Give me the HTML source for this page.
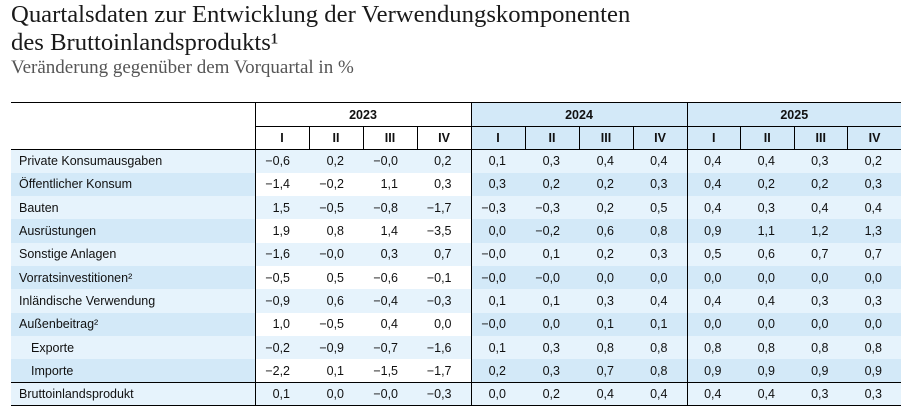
<!DOCTYPE html>
<html><head><meta charset="utf-8"><style>
body{margin:0;width:917px;height:416px;background:#fff;position:relative;overflow:hidden;font-family:"Liberation Sans Narrow","Liberation Sans",sans-serif;color:#111}
.t1{position:absolute;left:11px;top:1px;font-family:"Liberation Serif",serif;font-size:24.7px;line-height:28px;color:#1a1a1a}
.t2{position:absolute;left:11px;top:57px;font-family:"Liberation Serif",serif;font-size:19px;color:#555}
table{position:absolute;left:11px;top:102px;border-collapse:collapse;table-layout:fixed;font-size:12.5px}
td{padding:0;white-space:nowrap}
.h td{text-align:center;font-weight:bold}
.n{text-align:right;padding-right:19px}
.l{padding-left:8px}
.in{padding-left:20px}
.o td{background:#e6f3fc}
.e td{background:#d3e9f8}
.e td.w{background:#fff}
</style></head><body>
<div class="t1">Quartalsdaten zur Entwicklung der Verwendungskomponenten<br>des Bruttoinlandsprodukts¹</div>
<div class="t2">Veränderung gegenüber dem Vorquartal in %</div>
<table>
<colgroup><col style="width:244px"><col span="8" style="width:54px"><col span="4" style="width:53.5px"></colgroup>
<tr class="h" style="height:24px;border-top:1px solid #000">
<td></td><td colspan="4" style="border-left:1px solid #000;border-bottom:1px solid #000">2023</td>
<td colspan="4" style="border-left:1px solid #000;border-bottom:1px solid #000;background:#d3e9f8">2024</td>
<td colspan="4" style="border-left:1px solid #000;border-bottom:1px solid #000;background:#d3e9f8">2025</td></tr>
<tr class="h" style="height:23px;border-bottom:1px solid #000">
<td></td><td style="border-left:1px solid #000">I</td><td style="border-left:1px solid #000">II</td><td style="border-left:1px solid #000">III</td><td style="border-left:1px solid #000">IV</td>
<td style="border-left:1px solid #000;background:#d3e9f8">I</td><td style="border-left:1px solid #000;background:#d3e9f8">II</td><td style="border-left:1px solid #000;background:#d3e9f8">III</td><td style="border-left:1px solid #000;background:#d3e9f8">IV</td>
<td style="border-left:1px solid #000;background:#d3e9f8">I</td><td style="border-left:1px solid #000;background:#d3e9f8">II</td><td style="border-left:1px solid #000;background:#d3e9f8">III</td><td style="border-left:1px solid #000;background:#d3e9f8">IV</td></tr>
<tbody id="b"></tbody>
</table>
<script>
var rows=[["Private Konsumausgaben","−0,6 0,2 −0,0 0,2 0,1 0,3 0,4 0,4 0,4 0,4 0,3 0,2"],
["Öffentlicher Konsum","−1,4 −0,2 1,1 0,3 0,3 0,2 0,2 0,3 0,4 0,2 0,2 0,3"],
["Bauten","1,5 −0,5 −0,8 −1,7 −0,3 −0,3 0,2 0,5 0,4 0,3 0,4 0,4"],
["Ausrüstungen","1,9 0,8 1,4 −3,5 0,0 −0,2 0,6 0,8 0,9 1,1 1,2 1,3"],
["Sonstige Anlagen","−1,6 −0,0 0,3 0,7 −0,0 0,1 0,2 0,3 0,5 0,6 0,7 0,7"],
["Vorratsinvestitionen²","−0,5 0,5 −0,6 −0,1 −0,0 −0,0 0,0 0,0 0,0 0,0 0,0 0,0"],
["Inländische Verwendung","−0,9 0,6 −0,4 −0,3 0,1 0,1 0,3 0,4 0,4 0,4 0,3 0,3"],
["Außenbeitrag²","1,0 −0,5 0,4 0,0 −0,0 0,0 0,1 0,1 0,0 0,0 0,0 0,0"],
["Exporte","−0,2 −0,9 −0,7 −1,6 0,1 0,3 0,8 0,8 0,8 0,8 0,8 0,8"],
["Importe","−2,2 0,1 −1,5 −1,7 0,2 0,3 0,7 0,8 0,9 0,9 0,9 0,9"],
["Bruttoinlandsprodukt","0,1 0,0 −0,0 −0,3 0,0 0,2 0,4 0,4 0,4 0,4 0,3 0,3"]];
var h="";
rows.forEach(function(r,i){
 var last=i==10, cls=(i%2==0)?"o":"e";
 var st=last?"height:23px;border-top:1px solid #000;border-bottom:1px solid #000":"height:23.3px";
 h+='<tr class="'+cls+'" style="'+st+'"><td class="'+((i==8||i==9)?"in":"l")+'">'+r[0]+'</td>';
 r[1].split(" ").forEach(function(v,j){
  var b=(j==0||j==4||j==8)?"border-left:1px solid #000;":"";
  h+='<td class="n'+(j<4?" w":"")+'" style="'+b+'">'+v+'</td>';});
 h+='</tr>';});
document.getElementById("b").innerHTML=h;
</script>
</body></html>
